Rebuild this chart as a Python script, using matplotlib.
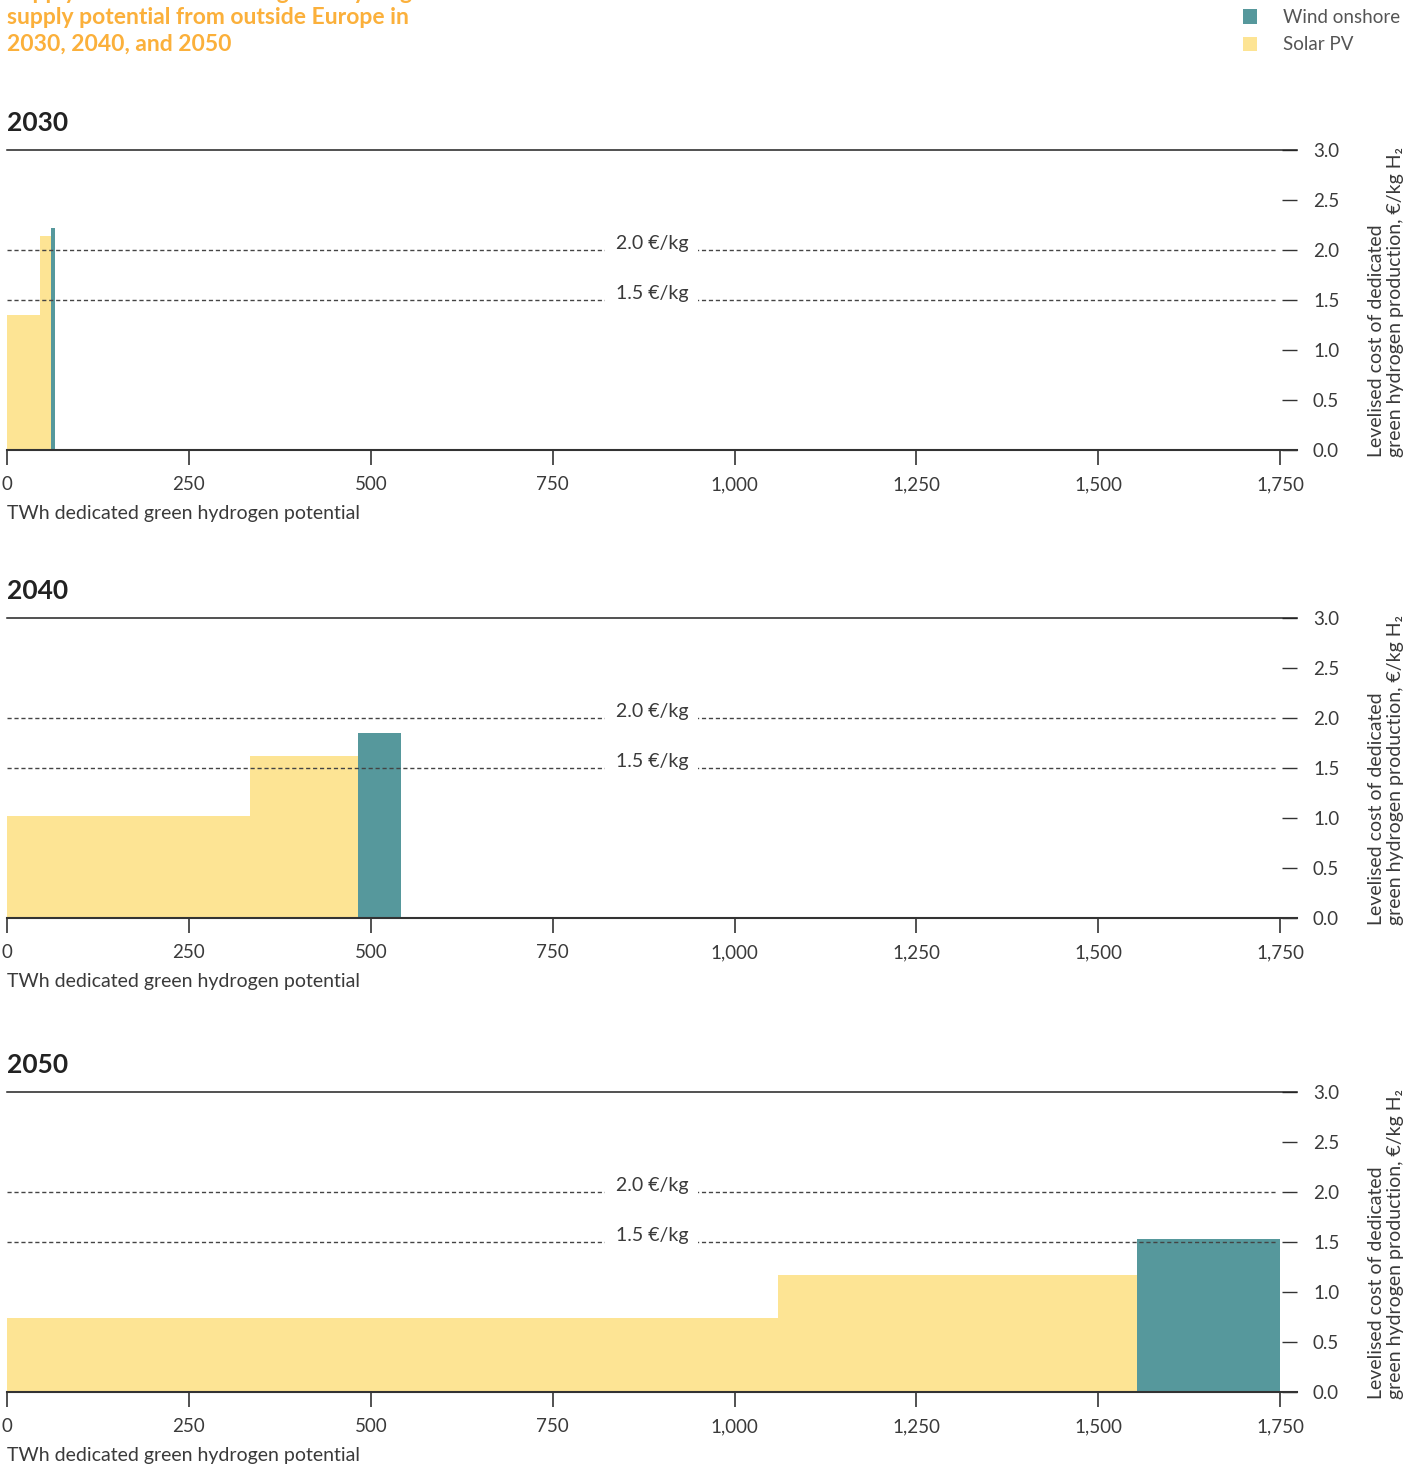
import matplotlib
matplotlib.use("Agg")
import matplotlib.pyplot as plt
from matplotlib.patches import Patch

plt.rcParams['font.family'] = ['Lato', 'DejaVu Sans']

# data: width of each step (TWh) and its cost (EUR/kg)
years = ['2030', '2040', '2050']
techs_2030 = ['Solar PV', 'Solar PV', 'Wind onshore']
twh_2030 = [45, 15, 6]
cost_2030 = [1.35, 2.14, 2.22]
techs_2040 = ['Solar PV', 'Solar PV', 'Wind onshore']
twh_2040 = [334, 149, 59]
cost_2040 = [1.02, 1.62, 1.85]
techs_2050 = ['Solar PV', 'Solar PV', 'Wind onshore']
twh_2050 = [1060, 493, 196]
cost_2050 = [0.74, 1.17, 1.53]

ref_levels = [2.0, 1.5]
x_ticks = [0, 250, 500, 750, 1000, 1250, 1500, 1750]
y_ticks = [0.0, 0.5, 1.0, 1.5, 2.0, 2.5, 3.0]

colors = {'Wind onshore': '#56989c', 'Solar PV': '#fde494'}
ORANGE = '#fbb03b'
TXT = '#3a3a3a'

W, H = 1425, 1470
fig = plt.figure(figsize=(W / 100, H / 100), dpi=100)

# title (first line is cut off at the top edge in the original)
title_lines = ['Supply curve of dedicated green hydrogen',
               'supply potential from outside Europe in',
               '2030, 2040, and 2050']
for line, y_px in zip(title_lines, [-8, 18, 44]):
    fig.text(7 / W, 1 - y_px / H, line, color=ORANGE, fontsize=16.5,
             fontweight='bold', va='center')

handles = [Patch(facecolor=colors['Wind onshore'], edgecolor='none'),
           Patch(facecolor=colors['Solar PV'], edgecolor='none')]
fig.legend(handles, ['Wind onshore', 'Solar PV'], loc='upper left',
           bbox_to_anchor=(1226 / W, 1 + 8 / H), frameon=False,
           handlelength=0.75, handleheight=0.8, handletextpad=1.4,
           labelspacing=0.55, fontsize=13.5, labelcolor='#555555')

panels = [(years[0], techs_2030, twh_2030, cost_2030, 150),
          (years[1], techs_2040, twh_2040, cost_2040, 618),
          (years[2], techs_2050, twh_2050, cost_2050, 1092)]

left_px, right_px = 7, 1297
for year, techs, twh, cost, top_px in panels:
    ax = fig.add_axes([left_px / W, 1 - (top_px + 300) / H,
                       (right_px - left_px) / W, 300 / H])
    starts = [sum(twh[:i]) for i in range(len(twh))]
    ax.bar(starts, cost, width=twh, align='edge',
           color=[colors[t] for t in techs], linewidth=0, zorder=1)

    for lvl in ref_levels:
        ax.hlines(lvl, 0, 1745, colors='#444444', linestyles=(0, (3, 2)),
                  linewidth=1, zorder=3)
        # gap in the dotted line behind the label
        ax.hlines(lvl, 822, 950, colors='white', linewidth=4, zorder=3.5)
        ax.annotate(f'{lvl:.1f} €/kg', (887, lvl), xytext=(0, 1),
                    textcoords='offset points', ha='center', va='baseline',
                    fontsize=14, color=TXT, zorder=4)

    ax.set_xlim(0, 1773)
    ax.set_ylim(0, 3)
    for s in ['left', 'right']:
        ax.spines[s].set_visible(False)
    ax.spines['top'].set_color('#222222')
    ax.spines['top'].set_linewidth(1.1)
    ax.spines['bottom'].set_color('#333333')
    ax.spines['bottom'].set_linewidth(1.5)

    ax.set_xticks(x_ticks)
    ax.set_xticklabels([f'{v:,}' for v in x_ticks])
    ax.tick_params(axis='x', direction='out', length=11, width=1.2,
                   color='#333333', pad=8, labelsize=13.5, labelcolor=TXT)
    ax.yaxis.tick_right()
    ax.set_yticks(y_ticks)
    ax.set_yticklabels([f'{v:.1f}' for v in y_ticks])
    ax.tick_params(axis='y', direction='in', length=11, width=1,
                   color='#333333', pad=11.5, labelsize=13.5, labelcolor=TXT)

    ax.text(0, 1.09, year, transform=ax.transAxes, fontsize=19,
            fontweight='bold', color='#222222', va='center', ha='left')
    ax.text(0, -0.21, 'TWh dedicated green hydrogen potential',
            transform=ax.transAxes, fontsize=14, color=TXT,
            va='center', ha='left')
    ax.text(1.069, -0.023,
            'Levelised cost of dedicated\ngreen hydrogen production, €/kg H₂',
            transform=ax.transAxes, rotation=90, ha='center', va='bottom',
            multialignment='left', fontsize=14, color=TXT)

fig.savefig('out.png', dpi=100)
